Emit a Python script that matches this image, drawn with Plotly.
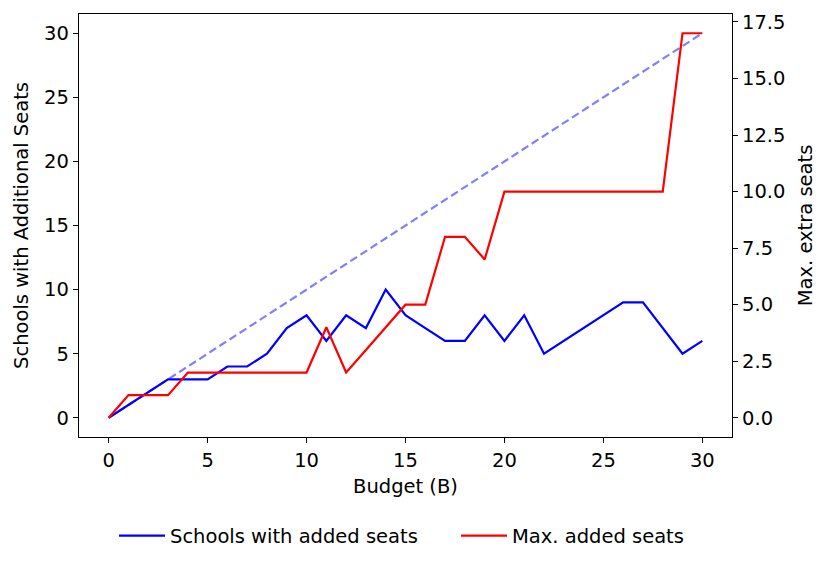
import plotly.graph_objects as go

budget = list(range(0, 31))
schools = [0, 1, 2, 3, 3, 3, 4, 4, 5, 7, 8, 6, 8, 7, 10, 8, 7, 6, 6, 8, 6, 8, 5, 6, 7, 8, 9, 9, 7, 5, 6]
max_seats = [0, 1, 1, 1, 2, 2, 2, 2, 2, 2, 2, 4, 2, 3, 4, 5, 5, 8, 8, 7, 10, 10, 10, 10, 10, 10, 10, 10, 10, 17, 17]
ref_x = [0, 30]
ref_y = [0, 30]

FONT = "DejaVu Sans"
FS = 19.5
fig = go.Figure()
fig.add_trace(go.Scatter(x=ref_x, y=ref_y, mode="lines", showlegend=False,
                         line=dict(color="rgba(0,0,255,0.5)", width=2.2, dash="8px,4px"), hoverinfo="skip"))
fig.add_trace(go.Scatter(x=budget, y=schools, mode="lines", name="Schools with added seats",
                         line=dict(color="#0000ff", width=2.2), legend="legend"))
fig.add_trace(go.Scatter(x=budget, y=max_seats, mode="lines", name="Max. added seats", yaxis="y2",
                         line=dict(color="#ff0000", width=2.2), legend="legend2"))

axis_common = dict(showgrid=False, zeroline=False, showline=True, linecolor="black", linewidth=1.3,
                   ticks="outside", ticklen=5, tickwidth=1.3, tickcolor="black", automargin=False,
                   tickfont=dict(family=FONT, size=FS, color="black"))

leg_common = dict(orientation="h", xanchor="left", y=-0.234, yanchor="middle",
                  font=dict(family=FONT, size=FS), bgcolor="rgba(0,0,0,0)", itemwidth=46)

fig.update_layout(
    width=830, height=569,
    margin=dict(l=71, r=106, t=6, b=140, autoexpand=False),
    paper_bgcolor="white", plot_bgcolor="white",
    font=dict(family=FONT, size=FS, color="black"),
    xaxis=dict(range=[-1.5, 31.5], tickvals=[0, 5, 10, 15, 20, 25, 30], mirror=True,
               title=dict(text="Budget (B)", font=dict(family=FONT, size=FS), standoff=8), **axis_common),
    yaxis=dict(range=[-1.5, 31.5], tickvals=[0, 5, 10, 15, 20, 25, 30], mirror=True,
               title=dict(text="Schools with Additional Seats", font=dict(family=FONT, size=FS), standoff=10), **axis_common),
    yaxis2=dict(range=[-0.85, 17.85], tickvals=[0, 2.5, 5, 7.5, 10, 12.5, 15, 17.5], tickformat=".1f",
                overlaying="y", side="right",
                title=dict(text="Max. extra seats", font=dict(family=FONT, size=FS), standoff=13), **axis_common),
    legend=dict(x=(106 - 71) / 653, **leg_common),
    legend2=dict(x=(448 - 71) / 653, **leg_common),
)
fig.write_html("out.html")
